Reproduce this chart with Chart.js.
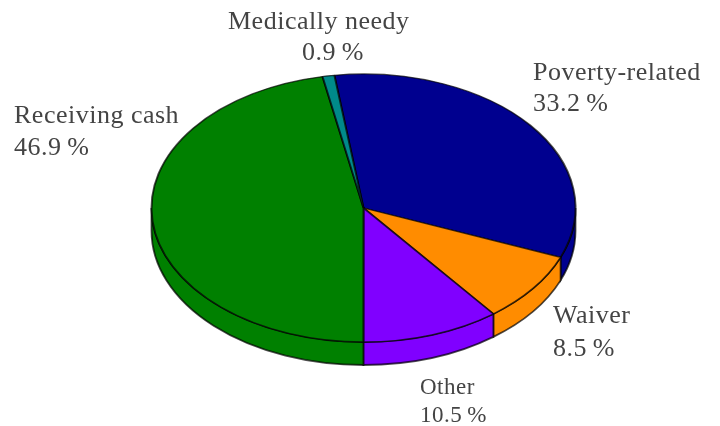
<!DOCTYPE html>
<html>
<head>
<meta charset="utf-8">
<title>Pie</title>
<script src="https://cdn.jsdelivr.net/npm/chart.js@4"></script>
<style>
    html, body { margin: 0; padding: 0; background: #fff; overflow: hidden; }
    canvas { display: block; filter: blur(0.6px); }
</style>
</head>
<body>
<canvas id="pie" width="720" height="426"></canvas>
<script>
const categories = ["Poverty-related", "Waiver", "Other", "Receiving cash", "Medically needy"];
const shares = [33.2, 8.5, 10.5, 46.9, 0.9];
const sliceColors = ["#00008f", "#ff8c00", "#8000ff", "#008000", "#008a8a"];

// where each label goes: x, name baseline, share baseline, font size, share x
const labelSpots = [
    [533, 80, 111, 26, 533],
    [553, 323, 356, 26, 553],
    [420, 394, 422, 23, 420],
    [14, 123, 155, 26, 14],
    [228, 29, 60, 26, 302]
];

const centerY = 208;
const squash = 134 / 212;
const depth = 23;
const edge = "rgba(0,0,0,0.7)";

function shareText(v) {
    return v.toFixed(1) + "\u2009%";
}

// flattens the pie into an ellipse and draws the side wall under it
const tiltPlugin = {
    id: "tilt",
    beforeDatasetsDraw(chart) {
        const ctx = chart.ctx;
        const arcs = chart.getDatasetMeta(0).data;
        arcs.forEach((arc, i) => {
            const p = arc.getProps(["x", "startAngle", "endAngle", "outerRadius"], true);
            [-2 * Math.PI, 0, 2 * Math.PI].forEach(k => {
                const a = Math.max(p.startAngle, k);
                const b = Math.min(p.endAngle, k + Math.PI);
                if (b <= a) return;
                const ry = p.outerRadius * squash;
                ctx.beginPath();
                ctx.ellipse(p.x, centerY, p.outerRadius, ry, 0, a, b);
                ctx.ellipse(p.x, centerY + depth, p.outerRadius, ry, 0, b, a, true);
                ctx.closePath();
                ctx.fillStyle = sliceColors[i];
                ctx.fill();
                ctx.lineWidth = 1.8;
                ctx.strokeStyle = edge;
                ctx.stroke();
            });
        });
        const cy = arcs[0].y;
        ctx.save();
        ctx.translate(0, centerY);
        ctx.scale(1, squash);
        ctx.translate(0, -cy);
    },
    afterDatasetsDraw(chart) {
        const ctx = chart.ctx;
        ctx.restore();
        ctx.fillStyle = "#444";
        ctx.textAlign = "left";
        ctx.letterSpacing = "0.5px";
        categories.forEach((name, i) => {
            const [x, y1, y2, size, x2] = labelSpots[i];
            ctx.font = size + 'px "Liberation Serif", serif';
            ctx.fillText(name, x, y1);
            ctx.fillText(shareText(shares[i]), x2, y2);
        });
        ctx.letterSpacing = "0px";
    }
};

new Chart(document.getElementById("pie"), {
    type: "pie",
    data: {
        labels: categories,
        datasets: [{
            data: shares,
            backgroundColor: sliceColors,
            borderColor: edge,
            borderWidth: 2,
            clip: false
        }]
    },
    options: {
        responsive: false,
        animation: false,
        radius: 212,
        rotation: -7.9,
        layout: { padding: { left: 7 } },
        events: [],
        plugins: {
            legend: { display: false },
            tooltip: { enabled: false }
        }
    },
    plugins: [tiltPlugin]
});
</script>
</body>
</html>
